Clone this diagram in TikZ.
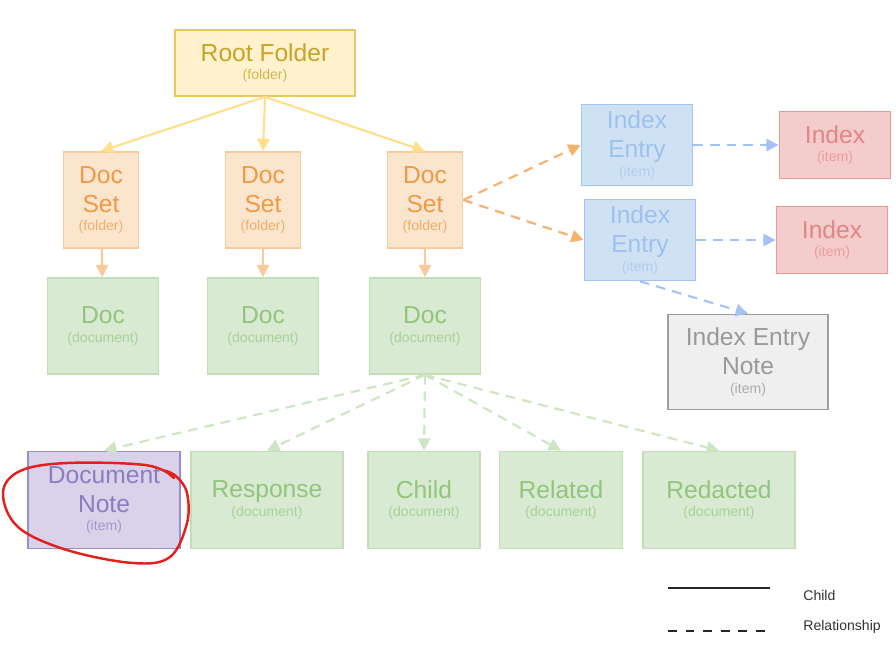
\documentclass[tikz,border=0pt]{standalone}
\usepackage{fontspec}
\setmainfont{Liberation Sans}
\usetikzlibrary{arrows.meta}
\usetikzlibrary{positioning}
\definecolor{yFill}{HTML}{FFF2CC}
\definecolor{yDraw}{HTML}{E9C766}
\definecolor{yText}{HTML}{C9A227}
\definecolor{yLine}{HTML}{FFE08A}
\definecolor{oFill}{HTML}{FCE5CD}
\definecolor{oDraw}{HTML}{F9CB9C}
\definecolor{oText}{HTML}{EE9A45}
\definecolor{oLine}{HTML}{F9C99A}
\definecolor{oDash}{HTML}{F6B26B}
\definecolor{gFill}{HTML}{D9EAD3}
\definecolor{gDraw}{HTML}{C3DEB7}
\definecolor{gText}{HTML}{93C47D}
\definecolor{gDash}{HTML}{CDE5C3}
\definecolor{bFill}{HTML}{CFE2F3}
\definecolor{bDraw}{HTML}{A4C2F4}
\definecolor{bText}{HTML}{9FC0EE}
\definecolor{bDash}{HTML}{A4C2F4}
\definecolor{rFill}{HTML}{F4CCCC}
\definecolor{rDraw}{HTML}{EA9999}
\definecolor{rText}{HTML}{E38585}
\definecolor{grFill}{HTML}{EFEFEF}
\definecolor{grDraw}{HTML}{9E9E9E}
\definecolor{grText}{HTML}{999999}
\definecolor{pFill}{HTML}{D9D2E9}
\definecolor{pDraw}{HTML}{9A8CD3}
\definecolor{pText}{HTML}{8E7CC3}
\definecolor{markRed}{HTML}{E3201B}
\newcommand{\kind}[1]{\\[-6pt]{\fontsize{8}{9}\selectfont\color{.!80!white}#1}}
\tikzset{
    box/.style = {rectangle, line width=1pt, align=center, inner sep=0pt, font=\fontsize{14}{16.5}\selectfont},
    boxy/.style = {box, draw=yDraw, fill=yFill, text=yText},
    boxo/.style = {box, draw=oDraw, fill=oFill, text=oText},
    boxg/.style = {box, draw=gDraw, fill=gFill, text=gText},
    boxb/.style = {box, draw=bDraw, fill=bFill, text=bText},
    boxr/.style = {box, draw=rDraw, fill=rFill, text=rText},
    boxgr/.style = {box, draw=grDraw, fill=grFill, text=grText},
    boxp/.style = {box, draw=pDraw, fill=pFill, text=pText},
    edge/.style = {-{Triangle[length=7pt,width=7pt]}, line width=1.2pt},
    edgey/.style = {edge, yLine},
    edgeo/.style = {edge, oLine},
    edgeod/.style = {edge, oDash, dash pattern=on 5.5pt off 4pt}, % relationship
    edgebd/.style = {edge, bDash, dash pattern=on 5.5pt off 4pt}, % relationship
    edgegd/.style = {edge, gDash, dash pattern=on 5.5pt off 4pt}, % relationship
    legend/.style = {font=\fontsize{8}{9}\selectfont, text=black!80, anchor=west, inner sep=0pt}
}
\begin{document}
\begin{tikzpicture}[x=0.02cm, y=-0.02cm]
  \useasboundingbox (0,0) rectangle (896,647);
  % folders
  \node[boxy, minimum width=3.6cm, minimum height=1.32cm] (root) at (265,63) {Root Folder\kind{(folder)}};
  \node[boxo, minimum width=1.5cm, minimum height=1.92cm] (ds1) at (101,200) {Doc\\Set\kind{(folder)}};
  \node[boxo, minimum width=1.5cm, minimum height=1.92cm] (ds2) at (263,200) {Doc\\Set\kind{(folder)}};
  \node[boxo, minimum width=1.5cm, minimum height=1.92cm] (ds3) at (425,200) {Doc\\Set\kind{(folder)}};
  % documents
  \node[boxg, minimum width=2.22cm, minimum height=1.92cm] (doc1) at (103,326) {Doc\kind{(document)}};
  \node[boxg, minimum width=2.22cm, minimum height=1.92cm] (doc2) at (263,326) {Doc\kind{(document)}};
  \node[boxg, minimum width=2.22cm, minimum height=1.92cm] (doc3) at (425,326) {Doc\kind{(document)}};
  % index items
  \node[boxb, minimum width=2.22cm, minimum height=1.62cm] (ie1) at (637,145) {Index\\Entry\kind{(item)}};
  \node[boxb, minimum width=2.22cm, minimum height=1.62cm] (ie2) at (640,240) {Index\\Entry\kind{(item)}};
  \node[boxr, minimum width=2.22cm, minimum height=1.34cm] (idx1) at (835,145) {Index\kind{(item)}};
  \node[boxr, minimum width=2.22cm, minimum height=1.34cm] (idx2) at (832,240) {Index\kind{(item)}};
  \node[boxgr, minimum width=3.2cm, minimum height=1.9cm] (ienote) at (748,362) {Index Entry\\Note\kind{(item)}};
  % related documents
  \node[boxp, minimum width=3.04cm, minimum height=1.94cm] (dnote) at (104,500) {Document\\Note\kind{(item)}};
  \node[boxg, minimum width=3.04cm, minimum height=1.94cm] (resp) at (267,500) {Response\kind{(document)}};
  \node[boxg, minimum width=2.24cm, minimum height=1.94cm] (child) at (424,500) {Child\kind{(document)}};
  \node[boxg, minimum width=2.46cm, minimum height=1.94cm] (rel) at (561,500) {Related\kind{(document)}};
  \node[boxg, minimum width=3.04cm, minimum height=1.94cm] (red) at (719,500) {Redacted\kind{(document)}};
  % children
  \draw[edgey] (root.south) -- (ds1.north);
  \draw[edgey] (root.south) -- (ds2.north);
  \draw[edgey] (root.south) -- (ds3.north);
  \draw[edgeo] (ds1) -- (doc1);
  \draw[edgeo] (ds2) -- (doc2);
  \draw[edgeo] (ds3) -- (doc3);
  % relationships
  \draw[edgeod] (ds3.east) -- (ie1.west);
  \draw[edgeod] (ds3.east) -- (ie2.west);
  \draw[edgebd] (ie1) -- (idx1);
  \draw[edgebd] (ie2) -- (idx2);
  \draw[edgebd] (ie2.south) -- (ienote.north);
  \foreach \t in {dnote,resp,child,rel,red}
    \draw[edgegd] (doc3.south) -- (\t.north);
  % hand drawn mark
  \draw[markRed, line width=1.4pt, line cap=round] plot[smooth, tension=0.6] coordinates
    {(172,476) (145,465) (67,463) (20,471) (3,493) (18,527) (67,550) (133,563) (170,557) (187,523) (187,493) (177,477) (166,471) (174,478)};
  % legend
  \coordinate (lc1) at (668,588);
  \coordinate (lc2) at (770,588);
  \coordinate (lr1) at (668,631);
  \coordinate (lr2) at (770,631);
  \draw[black!85, line width=1.2pt] (lc1) -- (lc2);
  \draw[black!85, line width=1.2pt, dash pattern=on 5pt off 5pt] (lr1) -- (lr2);
  \node[legend] (lchild) at (803,595) {Child};
  \node[legend] (lrel) at (803,627) {Relationship};
\end{tikzpicture}
\end{document}
